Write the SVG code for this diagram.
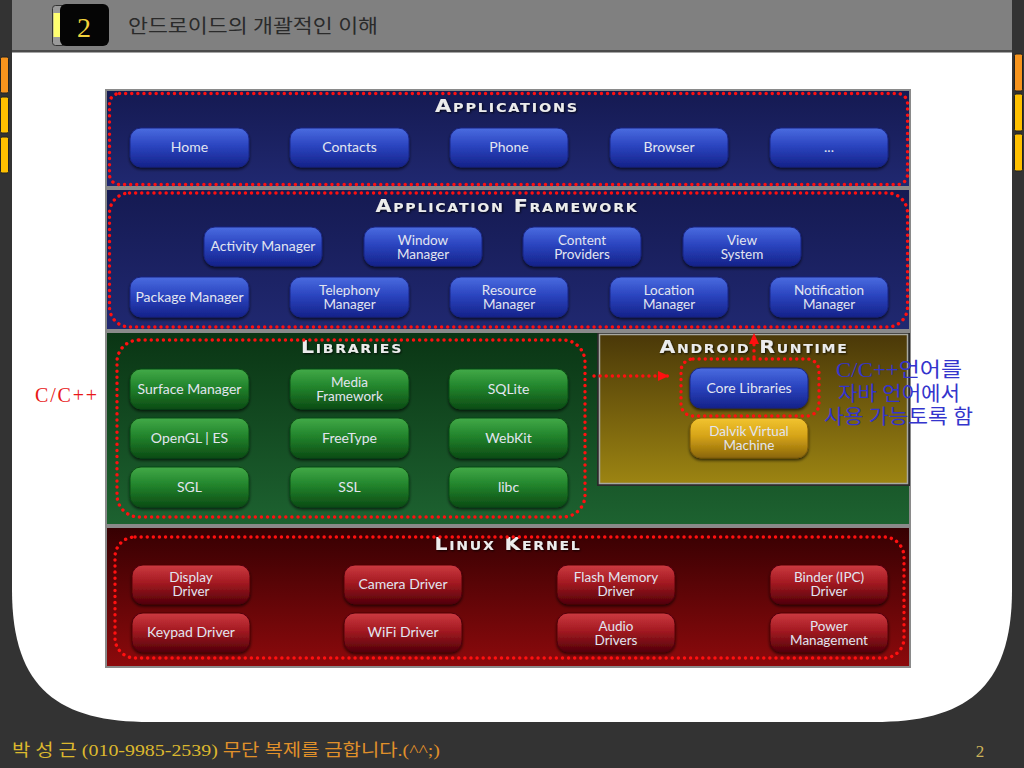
<svg xmlns="http://www.w3.org/2000/svg" width="1024" height="768" viewBox="0 0 1024 768">
<defs>
<style>
.btxt{font-family:Lato,"Open Sans","Liberation Sans",sans-serif;font-size:14px;fill:#e2e5f0;text-anchor:middle}
.two{font-size:13.5px}
.head{font-family:"DejaVu Sans","Liberation Sans",sans-serif;font-weight:bold;font-variant:small-caps;font-size:17.5px;fill:#ececec;text-anchor:middle;letter-spacing:1.5px}
.dot{fill:none;stroke:#ff1010;stroke-width:3.4;stroke-linecap:round;stroke-dasharray:0.1 6}
</style>
<linearGradient id="gBlue" x1="0" y1="0" x2="0" y2="1">
<stop offset="0" stop-color="#4a6ce0"/><stop offset="0.45" stop-color="#2b45c0"/><stop offset="1" stop-color="#15228a"/>
</linearGradient>
<linearGradient id="gGreen" x1="0" y1="0" x2="0" y2="1">
<stop offset="0" stop-color="#42aa48"/><stop offset="0.45" stop-color="#22842c"/><stop offset="1" stop-color="#0c4c14"/>
</linearGradient>
<linearGradient id="gRed" x1="0" y1="0" x2="0" y2="1">
<stop offset="0" stop-color="#cc3a40"/><stop offset="0.45" stop-color="#a41a22"/><stop offset="1" stop-color="#520008"/>
</linearGradient>
<linearGradient id="gGold" x1="0" y1="0" x2="0" y2="1">
<stop offset="0" stop-color="#f2c430"/><stop offset="0.45" stop-color="#d6a418"/><stop offset="1" stop-color="#8a6608"/>
</linearGradient>
<linearGradient id="gNavy" x1="0" y1="0" x2="0" y2="1">
<stop offset="0" stop-color="#151a52"/><stop offset="1" stop-color="#202870"/>
</linearGradient>
<linearGradient id="gLib" x1="0" y1="0" x2="0" y2="1">
<stop offset="0" stop-color="#0a3514"/><stop offset="1" stop-color="#1d6230"/>
</linearGradient>
<linearGradient id="gRt" x1="0" y1="0" x2="0" y2="1">
<stop offset="0" stop-color="#4a3808"/><stop offset="1" stop-color="#9c8412"/>
</linearGradient>
<linearGradient id="gKer" x1="0" y1="0" x2="0" y2="1">
<stop offset="0" stop-color="#360002"/><stop offset="1" stop-color="#8c0a0c"/>
</linearGradient>
<filter id="sh" x="-10%" y="-20%" width="120%" height="150%">
<feDropShadow dx="0" dy="2" stdDeviation="1.6" flood-color="#000" flood-opacity="0.65"/>
</filter>
<filter id="tsh" x="-5%" y="-30%" width="110%" height="160%">
<feDropShadow dx="1" dy="1" stdDeviation="0.8" flood-color="#000" flood-opacity="0.8"/>
</filter>
<marker id="arr" markerWidth="12" markerHeight="12" refX="10" refY="6" orient="auto" markerUnits="userSpaceOnUse">
<path d="M0,1 L11,6 L0,11 Z" fill="#ff1010"/>
</marker>
</defs>

<!-- page frame -->
<rect x="0" y="0" width="1024" height="768" fill="#333333"/>
<path d="M12,52 H1012 V590 C1012,690 964,722 874,722 H150 C60,722 12,690 12,590 Z" fill="#ffffff"/>
<rect x="12" y="0" width="1000" height="51" fill="#808080"/>
<rect x="12" y="50" width="1000" height="2.5" fill="#4a4a4a"/>
<g id="sidebars" stroke="#222" stroke-width="1">
<rect x="0.5" y="57" width="8" height="36" rx="1.5" fill="#f7941d"/>
<rect x="0.5" y="97" width="8" height="36" rx="1.5" fill="#ffc000"/>
<rect x="0.5" y="137" width="8" height="36" rx="1.5" fill="#ffc000"/>
<rect x="1014.5" y="54" width="8" height="37" rx="1.5" fill="#f7941d"/>
<rect x="1014.5" y="94" width="8" height="37" rx="1.5" fill="#ffc000"/>
<rect x="1014.5" y="134" width="8" height="37" rx="1.5" fill="#ffc000"/>
</g>

<!-- header -->
<g id="header">
<rect x="52.5" y="5.5" width="14" height="40" rx="3" fill="#9a9a9a" stroke="#333"/>
<rect x="53.5" y="13" width="9" height="24" fill="#ffff70"/>
<rect x="60" y="4" width="49" height="42" rx="6" fill="#050505"/>
<text x="84" y="37" font-family="'Liberation Serif',serif" font-size="28" fill="#f2d23c" text-anchor="middle">2</text>
<text x="128" y="33" font-family="'Liberation Serif','Noto Sans CJK KR',serif" font-size="19" fill="#2a2a2a" textLength="250" lengthAdjust="spacingAndGlyphs">안드로이드의 개괄적인 이해</text>
</g>

<!-- diagram background -->
<g id="layers">
<rect x="105" y="89" width="806" height="579" fill="#8a8a8a"/>
<rect x="107" y="91" width="802" height="95" fill="url(#gNavy)"/>
<rect x="107" y="190" width="802" height="139" fill="url(#gNavy)"/>
<rect x="107" y="333" width="802" height="191" fill="url(#gLib)"/>
<rect x="597" y="333" width="313" height="153" fill="#2a2a2a"/>
<rect x="599.5" y="334.5" width="308" height="149" fill="url(#gRt)" stroke="#a8a8a0" stroke-width="1.5"/>
<rect x="107" y="528" width="802" height="138" fill="url(#gKer)"/>
</g>

<!-- headings -->
<g id="headings" filter="url(#tsh)">
<text class="head" x="507" y="112" textLength="144" lengthAdjust="spacingAndGlyphs">Applications</text>
<text class="head" x="507" y="212" textLength="263" lengthAdjust="spacingAndGlyphs">Application Framework</text>
<text class="head" x="352" y="353" textLength="102" lengthAdjust="spacingAndGlyphs">Libraries</text>
<text class="head" x="754" y="353" textLength="189" lengthAdjust="spacingAndGlyphs">Android Runtime</text>
<text class="head" x="508" y="550" textLength="147" lengthAdjust="spacingAndGlyphs">Linux Kernel</text>
</g>

<!-- Applications -->
<g id="app-home"><rect x="130" y="128" width="119" height="39" rx="11" fill="url(#gBlue)" stroke="#1a2480" filter="url(#sh)"/><text class="btxt" x="189.5" y="152">Home</text></g>
<g id="app-contacts"><rect x="290" y="128" width="119" height="39" rx="11" fill="url(#gBlue)" stroke="#1a2480" filter="url(#sh)"/><text class="btxt" x="349.5" y="152">Contacts</text></g>
<g id="app-phone"><rect x="450" y="128" width="118" height="39" rx="11" fill="url(#gBlue)" stroke="#1a2480" filter="url(#sh)"/><text class="btxt" x="509" y="152">Phone</text></g>
<g id="app-browser"><rect x="610" y="128" width="118" height="39" rx="11" fill="url(#gBlue)" stroke="#1a2480" filter="url(#sh)"/><text class="btxt" x="669" y="152">Browser</text></g>
<g id="app-more"><rect x="770" y="128" width="118" height="39" rx="11" fill="url(#gBlue)" stroke="#1a2480" filter="url(#sh)"/><text class="btxt" x="829" y="152">...</text></g>

<!-- Framework -->
<g id="fw-activity"><rect x="204" y="227" width="118" height="39" rx="11" fill="url(#gBlue)" stroke="#1a2480" filter="url(#sh)"/><text class="btxt" x="263" y="251">Activity Manager</text></g>
<g id="fw-window"><rect x="364" y="227" width="118" height="39" rx="11" fill="url(#gBlue)" stroke="#1a2480" filter="url(#sh)"/><text class="btxt two" x="423" y="244.5">Window<tspan x="423" dy="14">Manager</tspan></text></g>
<g id="fw-content"><rect x="523" y="227" width="118" height="39" rx="11" fill="url(#gBlue)" stroke="#1a2480" filter="url(#sh)"/><text class="btxt two" x="582" y="244.5">Content<tspan x="582" dy="14">Providers</tspan></text></g>
<g id="fw-view"><rect x="683" y="227" width="118" height="39" rx="11" fill="url(#gBlue)" stroke="#1a2480" filter="url(#sh)"/><text class="btxt two" x="742" y="244.5">View<tspan x="742" dy="14">System</tspan></text></g>
<g id="fw-package"><rect x="130" y="277" width="119" height="40" rx="11" fill="url(#gBlue)" stroke="#1a2480" filter="url(#sh)"/><text class="btxt" x="189.5" y="302">Package Manager</text></g>
<g id="fw-telephony"><rect x="290" y="277" width="119" height="40" rx="11" fill="url(#gBlue)" stroke="#1a2480" filter="url(#sh)"/><text class="btxt two" x="349.5" y="295">Telephony<tspan x="349.5" dy="14">Manager</tspan></text></g>
<g id="fw-resource"><rect x="450" y="277" width="118" height="40" rx="11" fill="url(#gBlue)" stroke="#1a2480" filter="url(#sh)"/><text class="btxt two" x="509" y="295">Resource<tspan x="509" dy="14">Manager</tspan></text></g>
<g id="fw-location"><rect x="610" y="277" width="118" height="40" rx="11" fill="url(#gBlue)" stroke="#1a2480" filter="url(#sh)"/><text class="btxt two" x="669" y="295">Location<tspan x="669" dy="14">Manager</tspan></text></g>
<g id="fw-notification"><rect x="770" y="277" width="118" height="40" rx="11" fill="url(#gBlue)" stroke="#1a2480" filter="url(#sh)"/><text class="btxt two" x="829" y="295">Notification<tspan x="829" dy="14">Manager</tspan></text></g>

<!-- Libraries -->
<g id="lib-surface"><rect x="130" y="369" width="119" height="40" rx="11" fill="url(#gGreen)" stroke="#0c4a14" filter="url(#sh)"/><text class="btxt" x="189.5" y="393.5">Surface Manager</text></g>
<g id="lib-media"><rect x="290" y="369" width="119" height="40" rx="11" fill="url(#gGreen)" stroke="#0c4a14" filter="url(#sh)"/><text class="btxt two" x="349.5" y="387">Media<tspan x="349.5" dy="14">Framework</tspan></text></g>
<g id="lib-sqlite"><rect x="449" y="369" width="119" height="40" rx="11" fill="url(#gGreen)" stroke="#0c4a14" filter="url(#sh)"/><text class="btxt" x="508.5" y="393.5">SQLite</text></g>
<g id="lib-opengl"><rect x="130" y="418" width="119" height="40" rx="11" fill="url(#gGreen)" stroke="#0c4a14" filter="url(#sh)"/><text class="btxt" x="189.5" y="442.5">OpenGL | ES</text></g>
<g id="lib-freetype"><rect x="290" y="418" width="119" height="40" rx="11" fill="url(#gGreen)" stroke="#0c4a14" filter="url(#sh)"/><text class="btxt" x="349.5" y="442.5">FreeType</text></g>
<g id="lib-webkit"><rect x="449" y="418" width="119" height="40" rx="11" fill="url(#gGreen)" stroke="#0c4a14" filter="url(#sh)"/><text class="btxt" x="508.5" y="442.5">WebKit</text></g>
<g id="lib-sgl"><rect x="130" y="467" width="119" height="40" rx="11" fill="url(#gGreen)" stroke="#0c4a14" filter="url(#sh)"/><text class="btxt" x="189.5" y="491.5">SGL</text></g>
<g id="lib-ssl"><rect x="290" y="467" width="119" height="40" rx="11" fill="url(#gGreen)" stroke="#0c4a14" filter="url(#sh)"/><text class="btxt" x="349.5" y="491.5">SSL</text></g>
<g id="lib-libc"><rect x="449" y="467" width="119" height="40" rx="11" fill="url(#gGreen)" stroke="#0c4a14" filter="url(#sh)"/><text class="btxt" x="508.5" y="491.5">libc</text></g>

<!-- Android Runtime -->
<g id="rt-core"><rect x="690" y="368" width="118" height="40" rx="11" fill="url(#gBlue)" stroke="#1a2480" filter="url(#sh)"/><text class="btxt" x="749" y="392.5">Core Libraries</text></g>
<g id="rt-dalvik"><rect x="690" y="418" width="118" height="40" rx="11" fill="url(#gGold)" stroke="#7a5a08" filter="url(#sh)"/><text class="btxt two" x="749" y="435.5">Dalvik Virtual<tspan x="749" dy="14">Machine</tspan></text></g>

<!-- Kernel -->
<g id="k-display"><rect x="132" y="565" width="118" height="39" rx="11" fill="url(#gRed)" stroke="#500008" filter="url(#sh)"/><text class="btxt two" x="191" y="582">Display<tspan x="191" dy="14">Driver</tspan></text></g>
<g id="k-camera"><rect x="344" y="565" width="118" height="39" rx="11" fill="url(#gRed)" stroke="#500008" filter="url(#sh)"/><text class="btxt" x="403" y="589">Camera Driver</text></g>
<g id="k-flash"><rect x="557" y="565" width="118" height="39" rx="11" fill="url(#gRed)" stroke="#500008" filter="url(#sh)"/><text class="btxt two" x="616" y="582">Flash Memory<tspan x="616" dy="14">Driver</tspan></text></g>
<g id="k-binder"><rect x="770" y="565" width="118" height="39" rx="11" fill="url(#gRed)" stroke="#500008" filter="url(#sh)"/><text class="btxt two" x="829" y="582">Binder (IPC)<tspan x="829" dy="14">Driver</tspan></text></g>
<g id="k-keypad"><rect x="132" y="613" width="118" height="39" rx="11" fill="url(#gRed)" stroke="#500008" filter="url(#sh)"/><text class="btxt" x="191" y="637">Keypad Driver</text></g>
<g id="k-wifi"><rect x="344" y="613" width="118" height="39" rx="11" fill="url(#gRed)" stroke="#500008" filter="url(#sh)"/><text class="btxt" x="403" y="637">WiFi Driver</text></g>
<g id="k-audio"><rect x="557" y="613" width="118" height="39" rx="11" fill="url(#gRed)" stroke="#500008" filter="url(#sh)"/><text class="btxt two" x="616" y="630.5">Audio<tspan x="616" dy="14">Drivers</tspan></text></g>
<g id="k-power"><rect x="770" y="613" width="118" height="39" rx="11" fill="url(#gRed)" stroke="#500008" filter="url(#sh)"/><text class="btxt two" x="829" y="630.5">Power<tspan x="829" dy="14">Management</tspan></text></g>

<!-- dotted highlight outlines -->
<g id="highlights">
<rect class="dot" x="109.5" y="93.5" width="798" height="91" rx="10"/>
<rect class="dot" x="109.5" y="193" width="798" height="134" rx="20"/>
<rect class="dot" x="117" y="340" width="468" height="177" rx="22"/>
<rect class="dot" x="681" y="359" width="138" height="57" rx="12"/>
<rect class="dot" x="115" y="537" width="789" height="121" rx="20"/>
</g>

<!-- connectors -->
<g id="connectors">
<line class="dot" x1="594" y1="376" x2="668" y2="376" marker-end="url(#arr)"/>
<line class="dot" x1="754" y1="357" x2="754" y2="334" marker-end="url(#arr)"/>
</g>

<!-- annotations -->
<g id="annotations" font-family="'Liberation Serif','Noto Sans CJK KR',serif" font-size="20">
<text x="35" y="402" fill="#e81818" textLength="62" lengthAdjust="spacing">C/C++</text>
<text fill="#3434cc" x="836" y="377" textLength="126" lengthAdjust="spacingAndGlyphs">C/C++언어를</text>
<text fill="#3434cc" x="838" y="401" textLength="122" lengthAdjust="spacingAndGlyphs">자바 언어에서</text>
<text fill="#3434cc" x="824" y="424" textLength="149" lengthAdjust="spacingAndGlyphs">사용 가능토록 함</text>
</g>

<!-- footer -->
<g id="footer" font-family="'Liberation Serif','Noto Sans CJK KR',serif" font-size="17">
<text x="12" y="756" textLength="428" lengthAdjust="spacingAndGlyphs"><tspan fill="#dcb82e">박 성 근 (010-9985-2539)</tspan><tspan fill="#e0902a">  무단 복제를 금합니다.(^^;)</tspan></text>
<text x="980" y="757" fill="#cdb45a" text-anchor="middle">2</text>
</g>
</svg>
